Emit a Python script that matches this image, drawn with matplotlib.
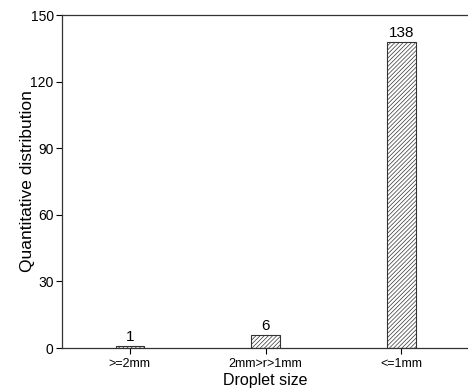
import matplotlib.pyplot as plt
import matplotlib as mpl

categories = ['>=2mm', '2mm>r>1mm', '<=1mm']
counts = [1, 6, 138]
y_ticks = [0, 30, 60, 90, 120, 150]

plt.rcParams['font.family'] = ['Liberation Sans', 'DejaVu Sans']
plt.rcParams['hatch.color'] = '#555555'
plt.rcParams['hatch.linewidth'] = 0.5

fig = plt.figure(figsize=(4.68, 3.92), dpi=100)
ax = fig.add_axes([0.1325, 0.1122, 0.87, 0.8495])

pos = list(range(1, len(categories) + 1))
bars = ax.bar(pos, counts, 0.21, color='white', edgecolor='#333333',
              linewidth=0.8, hatch='////////')

for p, c in zip(pos, counts):
    ax.text(p, c + 0.8, str(c), ha='center', va='bottom', fontsize=11)

ax.set_xlim(0.5, 3.5)
ax.set_ylim(0, 150)
ax.set_xticks(pos)
ax.set_xticklabels(categories, fontsize=9)
ax.set_yticks(y_ticks)
ax.tick_params(axis='y', labelsize=10, direction='out', length=4, width=0.8, pad=2)
ax.tick_params(axis='x', direction='out', length=4, width=0.8, pad=3)
ax.spines['right'].set_visible(False)
for s in ['left', 'top', 'bottom']:
    ax.spines[s].set_linewidth(0.9)
    ax.spines[s].set_color('#333333')

ax.set_xlabel('Droplet size', fontsize=11.5, labelpad=2)
ax.set_ylabel('Quantitative distribution', fontsize=12.5, labelpad=-3)

fig.savefig('out.png', dpi=100)
